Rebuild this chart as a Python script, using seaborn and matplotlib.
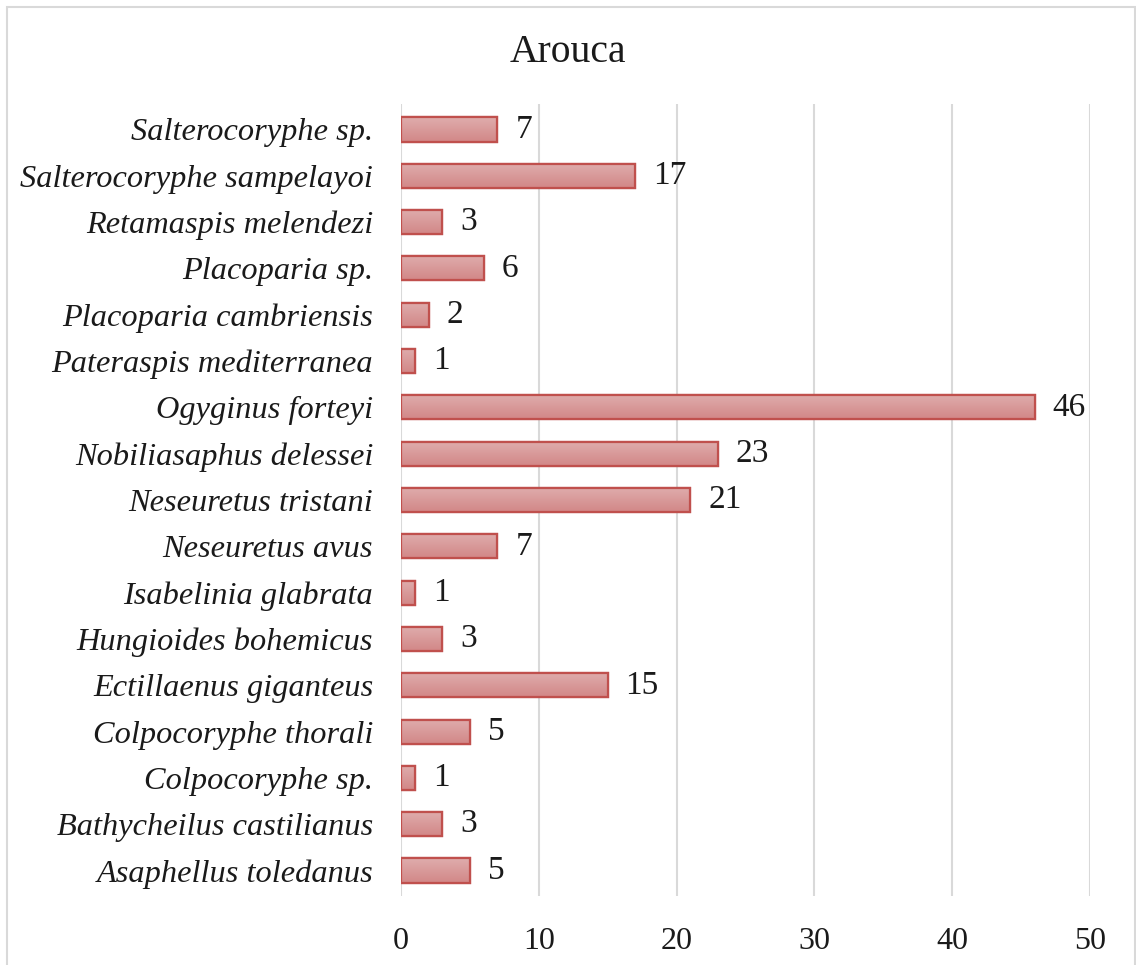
import matplotlib
matplotlib.use("Agg")
import matplotlib.pyplot as plt
import numpy as np
import pandas as pd
import seaborn as sns
from matplotlib.patches import Rectangle

species = ["Salterocoryphe sp.", "Salterocoryphe sampelayoi", "Retamaspis melendezi",
           "Placoparia sp.", "Placoparia cambriensis", "Pateraspis mediterranea",
           "Ogyginus forteyi", "Nobiliasaphus delessei", "Neseuretus tristani",
           "Neseuretus avus", "Isabelinia glabrata", "Hungioides bohemicus",
           "Ectillaenus giganteus", "Colpocoryphe thorali", "Colpocoryphe sp.",
           "Bathycheilus castilianus", "Asaphellus toledanus"]
counts = [7, 17, 3, 6, 2, 1, 46, 23, 21, 7, 1, 3, 15, 5, 1, 3, 5]
xticks = [0, 10, 20, 30, 40, 50]

df = pd.DataFrame({"species": species, "count": counts})

sns.set_style("white")
plt.rcParams['font.family'] = ['Liberation Serif', 'DejaVu Serif']

fig = plt.figure(figsize=(11.36, 9.65), dpi=100)
ax = fig.add_axes([401 / 1136, 1 - 896 / 965, (1090 - 401) / 1136, (896 - 104) / 965])

sns.barplot(data=df, y="species", x="count", orient="h", ax=ax, width=0.52,
            color="#d99a9a", edgecolor="#c0504d", linewidth=1.6, zorder=3)

# gradient fill inside each bar
grad = np.linspace(0, 1, 64).reshape(-1, 1)
cmap = matplotlib.colors.LinearSegmentedColormap.from_list("g", ["#dfadad", "#d28787"])
for p in ax.patches:
    x0, y0 = p.get_x(), p.get_y()
    w, h = p.get_width(), p.get_height()
    im = ax.imshow(grad, cmap=cmap, aspect="auto", extent=(x0, x0 + w, y0 + h, y0),
                   origin="upper", zorder=3.5, interpolation="bilinear")
    im.set_clip_path(p)
    edge = Rectangle((x0, y0), w, h, fill=False, edgecolor="#c0504d", linewidth=1.6, zorder=4)
    ax.add_patch(edge)

for i, v in enumerate(counts):
    ax.text(v + 1.3, i, str(v), va="center", ha="left", fontsize=24, color="#1a1a1a", zorder=5)

ax.set_xlim(0, 50)
ax.set_ylim(len(species) - 0.5 + 0.05, -0.5 - 0.05)
ax.set_xticks(xticks)
ax.set_xticklabels([str(t) for t in xticks], fontsize=23, color="#1a1a1a")
ax.set_yticks(range(len(species)))
ax.set_yticklabels(species, fontsize=23.3, style="italic", color="#1a1a1a")
ax.tick_params(axis="y", length=0, pad=20)
ax.tick_params(axis="x", length=0, pad=22)
ax.xaxis.grid(True, color="#d9d9d9", linewidth=1.5, zorder=0)
ax.set_axisbelow(True)
for s in ax.spines.values():
    s.set_visible(False)
ax.set_xlabel("")
ax.set_ylabel("")

fig.text(0.5, 1 - 52 / 965, "Arouca", ha="center", va="center", fontsize=28.5, color="#1a1a1a")
fig.patches.append(Rectangle((7 / 1136, -0.01), (1135 - 7) / 1136, 1 - 7 / 965 + 0.01,
                             transform=fig.transFigure, fill=False, edgecolor="#d9d9d9",
                             linewidth=1.5))

fig.savefig("out.png", dpi=100)
